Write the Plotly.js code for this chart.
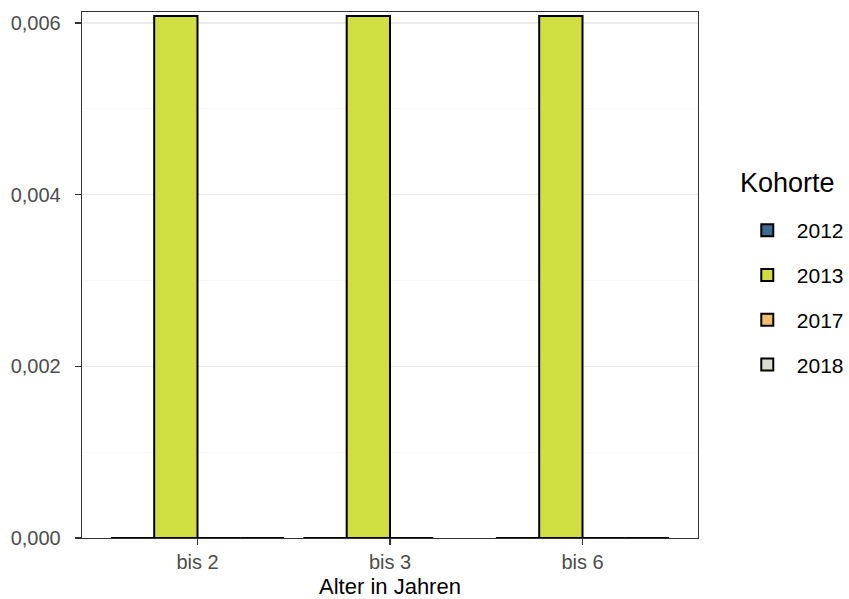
<!DOCTYPE html>
<html>
<head>
<meta charset="utf-8">
<script src="https://cdn.plot.ly/plotly-3.0.1.min.js"></script>
<style>html,body{margin:0;padding:0;background:#fff;}#chart{width:849px;height:599px;}</style>
</head>
<body>
<div id="chart"></div>
<script>
// Data
const categories = ["bis 2", "bis 3", "bis 6"];
const cohorts = ["2012", "2013", "2017", "2018"];
const values2012 = [0, 0, 0];
const values2013 = [0.00608, 0.00608, 0.00608];
const values2017 = [0, 0, 0];
const values2018 = [0, null, 0];
const yTicks = [0, 0.002, 0.004, 0.006];
const colors = ["#3E6990", "#CFDF41", "#F0BC6E", "#D8DEC8"];
const legendTitle = "Kohorte";

const seriesValues = [values2012, values2013, values2017, values2018];
const font = "Liberation Sans, Arial, Helvetica, sans-serif";

const traces = cohorts.map((c, i) => ({
  type: "bar",
  name: c,
  legendgroup: c,
  x: categories,
  y: seriesValues[i],
  marker: {color: colors[i], line: {color: "#000000", width: 2}},
  hoverinfo: "x+y+name"
}));

const layout = {
  width: 849, height: 599,
  margin: {l: 82, r: 151, t: 12, b: 61},
  paper_bgcolor: "#ffffff",
  plot_bgcolor: "#ffffff",
  separators: ",.",
  barmode: "group",
  bargap: 0.1,
  bargroupgap: 0,
  font: {family: font, color: "#000000"},
  xaxis: {
    type: "category",
    range: [-0.6, 2.6],
    showgrid: false,
    zeroline: false,
    showline: true, mirror: true, linecolor: "#333333", linewidth: 1.3,
    ticks: "outside", ticklen: 6, tickwidth: 1.3, tickcolor: "#333333",
    tickfont: {family: font, size: 20, color: "#4d4d4d"},
    title: {text: "Alter in Jahren", font: {family: font, size: 22, color: "#000000"}, standoff: 8}
  },
  yaxis: {
    range: [0, 0.006128],
    tickvals: yTicks,
    ticktext: yTicks.map(v => v.toFixed(3).replace(".", ",")),
    showgrid: true, gridcolor: "#ebebeb", gridwidth: 1.3,
    minor: {tickvals: [0.001, 0.003, 0.005], showgrid: true, gridcolor: "#f3f3f3", gridwidth: 0.7, ticks: ""},
    zeroline: false,
    showline: true, mirror: true, linecolor: "#333333", linewidth: 1.3,
    ticks: "outside", ticklen: 6, tickwidth: 1.3, tickcolor: "#333333",
    ticklabelstandoff: 10,
    tickfont: {family: font, size: 20, color: "#4d4d4d"}
  },
  showlegend: true,
  legend: {
    xref: "container", yref: "container",
    x: 0.869, xanchor: "left",
    y: 0.6494, yanchor: "top",
    traceorder: "grouped",
    font: {family: font, size: 21, color: "#000000"},
    tracegroupgap: 14.5,
    itemwidth: 49,
    bgcolor: "rgba(0,0,0,0)"
  },
  annotations: [{
    text: legendTitle,
    xref: "paper", yref: "paper",
    x: 1.065, y: 0.6749,
    xanchor: "left", yanchor: "middle",
    showarrow: false,
    font: {family: font, size: 27, color: "#000000"}
  }]
};

Plotly.newPlot("chart", traces, layout, {displayModeBar: false, staticPlot: true});
</script>
</body>
</html>
